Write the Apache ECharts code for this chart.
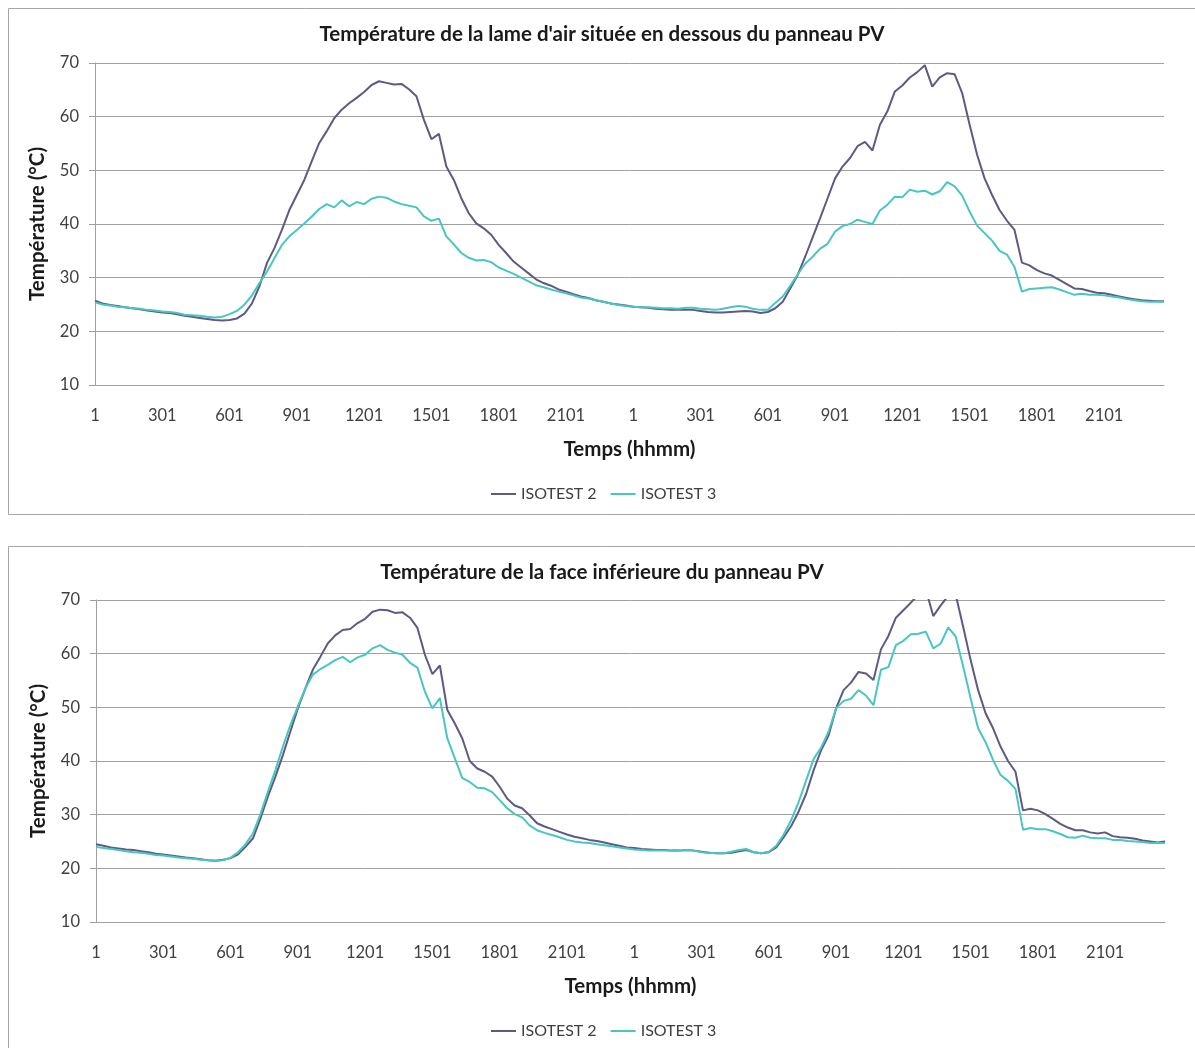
<!DOCTYPE html>
<html><head><meta charset="utf-8">
<script src="https://cdn.jsdelivr.net/npm/echarts@6/dist/echarts.min.js"></script>
<style>html,body{margin:0;padding:0;background:#fff}#c{width:1195px;height:1048px}</style>
</head><body><div id="c"></div><script>
// Time of day (hhmm), one sample every 20 minutes
const dayTimes = ["1","21","41","101","121","141","201","221","241","301","321","341","401","421","441","501","521","541",
  "601","621","641","701","721","741","801","821","841","901","921","941","1001","1021","1041","1101","1121","1141",
  "1201","1221","1241","1301","1321","1341","1401","1421","1441","1501","1521","1541","1601","1621","1641","1701","1721","1741",
  "1801","1821","1841","1901","1921","1941","2001","2021","2041","2101","2121","2141","2201","2221","2241","2301","2321","2341"];
const categories = dayTimes.concat(dayTimes);
const seriesNames = ["ISOTEST 2", "ISOTEST 3"];
const titleAir = "Température de la lame d'air située en dessous du panneau PV";
const titleFace = "Température de la face inférieure du panneau PV";
const xAxisName = "Temps (hhmm)";
const yAxisName = "Température (°C)";
const yMin = 10, yMax = 70, yStep = 10;

// Top chart : air gap temperature
const airIsotest2 = [
  25.7,25.2,24.9, 24.7,24.5,24.3, 24.1,23.9,23.7, 23.5,23.4,23.2, 22.9,22.7,22.5, 22.3,22.1,22.0,
  22.1,22.4,23.3, 25.2,28.4,32.7, 35.5,38.9,42.6, 45.4,48.2,51.7, 55.1,57.3,59.7, 61.3,62.5,63.5,
  64.6,65.9,66.6, 66.3,66.0,66.1, 65.1,63.8,59.4, 55.8,56.8,50.7, 48.2,44.8,42.0, 40.1,39.2,38.0,
  36.1,34.6,33.0, 31.9,30.8,29.7, 29.0,28.5,27.8, 27.4,26.9,26.5, 26.2,25.8,25.5, 25.2,25.0,24.8,
  24.6,24.5,24.4, 24.2,24.1,24.0, 24.0,24.0,24.0, 23.8,23.6,23.5, 23.5,23.6,23.7, 23.8,23.7,23.4,
  23.6,24.3,25.5, 28.0,30.5,33.9, 37.5,41.1,44.8, 48.5,50.7,52.3, 54.5,55.3,53.7, 58.5,61.0,64.7,
  65.8,67.3,68.3, 69.6,65.6,67.3, 68.1,67.9,64.4, 58.5,52.9,48.5, 45.4,42.6,40.6, 38.9,32.8,32.3,
  31.4,30.8,30.4, 29.6,28.8,28.0, 27.9,27.5,27.2, 27.1,26.8,26.5, 26.2,26.0,25.8, 25.7,25.6,25.6
];
const airIsotest3 = [
  25.4,25.0,24.8, 24.6,24.5,24.3, 24.2,24.0,23.9, 23.7,23.6,23.4, 23.1,23.0,22.9, 22.7,22.6,22.7,
  23.2,23.8,25.0, 26.7,29.0,31.1, 33.6,36.1,37.7, 38.9,40.1,41.4, 42.8,43.7,43.1, 44.4,43.3,44.1,
  43.7,44.7,45.1, 44.9,44.2,43.7, 43.4,43.1,41.4, 40.6,41.0,37.7, 36.2,34.6,33.7, 33.2,33.3,32.9,
  31.9,31.3,30.7, 30.0,29.3,28.6, 28.2,27.8,27.4, 27.1,26.7,26.3, 26.1,25.8,25.5, 25.2,24.9,24.7,
  24.6,24.5,24.5, 24.4,24.3,24.3, 24.2,24.4,24.4, 24.2,24.1,24.0, 24.2,24.5,24.7, 24.6,24.2,24.0,
  24.0,25.3,26.5, 28.5,30.6,32.6, 33.9,35.4,36.3, 38.6,39.6,40.0, 40.8,40.4,40.0, 42.5,43.6,45.1,
  45.0,46.4,46.0, 46.2,45.5,46.1, 47.8,47.0,45.3, 42.3,39.7,38.3, 36.9,35.0,34.3, 32.0,27.4,27.9,
  28.0,28.1,28.2, 27.8,27.3,26.8, 27.0,26.8,26.8, 26.7,26.5,26.3, 26.0,25.8,25.6, 25.5,25.5,25.5
];
// Bottom chart : PV panel back face temperature
const faceIsotest2 = [
  24.5,24.2,23.9, 23.7,23.5,23.4, 23.2,23.0,22.7, 22.6,22.4,22.2, 22.0,21.9,21.7, 21.5,21.4,21.6,
  21.9,22.6,24.0, 25.6,29.3,33.4, 37.1,41.1,45.5, 49.8,53.5,57.0, 59.4,61.9,63.4, 64.4,64.6,65.7,
  66.5,67.8,68.2, 68.1,67.6,67.7, 66.7,64.8,59.8, 56.2,57.8,49.5, 47.0,44.2,40.0, 38.6,38.0,37.1,
  35.2,33.0,31.7, 31.2,29.9,28.4, 27.8,27.3,26.8, 26.3,25.9,25.6, 25.3,25.1,24.8, 24.5,24.2,23.9,
  23.8,23.6,23.5, 23.4,23.4,23.3, 23.3,23.4,23.3, 23.1,22.9,22.8, 22.8,22.9,23.2, 23.4,23.0,22.8,
  23.0,23.9,25.8, 27.9,30.6,33.9, 38.3,42.0,44.8, 49.8,53.2,54.6, 56.6,56.3,55.1, 60.8,63.3,66.7,
  68.1,69.5,71.0, 72.0,67.0,69.0, 70.8,71.0,65.0, 58.8,53.2,48.9, 46.1,42.7,40.0, 38.0,30.8,31.1,
  30.8,30.1,29.2, 28.3,27.6,27.1, 27.1,26.7,26.5, 26.7,26.0,25.8, 25.7,25.5,25.2, 25.0,24.8,25.0
];
const faceIsotest3 = [
  24.0,23.8,23.6, 23.4,23.2,23.0, 22.9,22.7,22.5, 22.4,22.2,22.0, 21.9,21.8,21.6, 21.5,21.4,21.5,
  22.0,23.0,24.5, 26.5,30.1,34.3, 38.3,42.7,46.7, 50.2,53.5,56.1, 57.1,57.9,58.8, 59.4,58.4,59.3,
  59.8,61.0,61.6, 60.7,60.2,59.8, 58.3,57.4,52.9, 49.8,51.7,44.2, 40.5,36.8,36.1, 35.0,34.9,34.2,
  32.7,31.2,30.1, 29.5,28.0,27.1, 26.6,26.2,25.8, 25.3,25.0,24.8, 24.7,24.5,24.3, 24.1,23.9,23.7,
  23.5,23.4,23.3, 23.3,23.3,23.3, 23.3,23.4,23.3, 23.0,22.9,22.8, 22.8,23.1,23.4, 23.6,23.0,22.8,
  23.1,24.2,26.3, 29.0,32.4,36.4, 40.4,42.5,45.5, 49.8,51.2,51.6, 53.2,52.2,50.4, 57.0,57.5,61.6,
  62.4,63.6,63.7, 64.1,61.0,61.9, 64.9,63.2,57.6, 51.7,46.1,43.5, 40.2,37.4,36.3, 34.8,27.2,27.5,
  27.3,27.3,26.9, 26.4,25.8,25.7, 26.1,25.7,25.6, 25.6,25.3,25.3, 25.1,25.0,24.9, 24.7,24.7,24.7
];

const colors = ["#5d5a84", "#48c6c2"];
const FONT = 'Lato, "Noto Sans", sans-serif';
const gridCol = "#a0a0a0";

function xAx(i) {
  return {
    gridIndex: i, type: "category", data: categories, boundaryGap: false,
    axisLine: { show: true, lineStyle: { color: gridCol } },
    axisTick: { show: false },
    axisLabel: { interval: 8, margin: 22, fontSize: 16.5, color: "#404040", fontFamily: FONT },
    splitLine: { show: false },
    name: xAxisName, nameLocation: "middle", nameGap: 54,
    nameTextStyle: { fontSize: 20.5, fontWeight: "bold", color: "#1a1a1a", fontFamily: FONT }
  };
}
function yAx(i) {
  return {
    gridIndex: i, type: "value", min: yMin, max: yMax, interval: yStep,
    axisLine: { show: true, lineStyle: { color: gridCol } },
    axisTick: { show: true, length: 6, lineStyle: { color: gridCol } },
    axisLabel: { margin: 16, fontSize: 16.5, color: "#404040", fontFamily: FONT },
    splitLine: { show: true, lineStyle: { color: gridCol, width: 1 } },
    name: yAxisName, nameLocation: "middle", nameGap: 47, nameRotate: 90,
    nameTextStyle: { fontSize: 20.5, fontWeight: "bold", color: "#1a1a1a", fontFamily: FONT }
  };
}
function ser(name, data, idx, color) {
  return { name: name, type: "line", xAxisIndex: idx, yAxisIndex: idx, data: data,
    symbol: "none", smooth: false, clip: true, color: color,
    lineStyle: { width: 2, color: color }, emphasis: { disabled: true } };
}
function leg(top) {
  return { data: seriesNames, top: top, left: 486, icon: "rect", itemWidth: 25, itemHeight: 2,
    itemGap: 14, textStyle: { fontSize: 16, color: "#404040", fontFamily: FONT }, selectedMode: false };
}

const chart = echarts.init(document.getElementById("c"), null, { renderer: "canvas" });
chart.setOption({
  animation: false,
  backgroundColor: "#ffffff",
  title: [
    { text: titleAir, left: 597, top: 19, textAlign: "center",
      textStyle: { fontSize: 20.5, fontWeight: "bold", color: "#1a1a1a", fontFamily: FONT } },
    { text: titleFace, left: 597, top: 557, textAlign: "center",
      textStyle: { fontSize: 20.5, fontWeight: "bold", color: "#1a1a1a", fontFamily: FONT } }
  ],
  legend: [leg(481), leg(1018)],
  grid: [
    { left: 95, top: 63, width: 1069, height: 322 },
    { left: 96, top: 600, width: 1069, height: 322 }
  ],
  xAxis: [xAx(0), xAx(1)],
  yAxis: [yAx(0), yAx(1)],
  series: [
    ser(seriesNames[0], airIsotest2, 0, colors[0]),
    ser(seriesNames[1], airIsotest3, 0, colors[1]),
    ser(seriesNames[0], faceIsotest2, 1, colors[0]),
    ser(seriesNames[1], faceIsotest3, 1, colors[1])
  ],
  graphic: [
    { type: "rect", silent: true, shape: { x: 8.5, y: 8.5, width: 1200, height: 506 },
      style: { fill: "none", stroke: "#a6a6a6", lineWidth: 1 } },
    { type: "rect", silent: true, shape: { x: 8.5, y: 546.5, width: 1200, height: 520 },
      style: { fill: "none", stroke: "#a6a6a6", lineWidth: 1 } }
  ]
});
</script></body></html>
